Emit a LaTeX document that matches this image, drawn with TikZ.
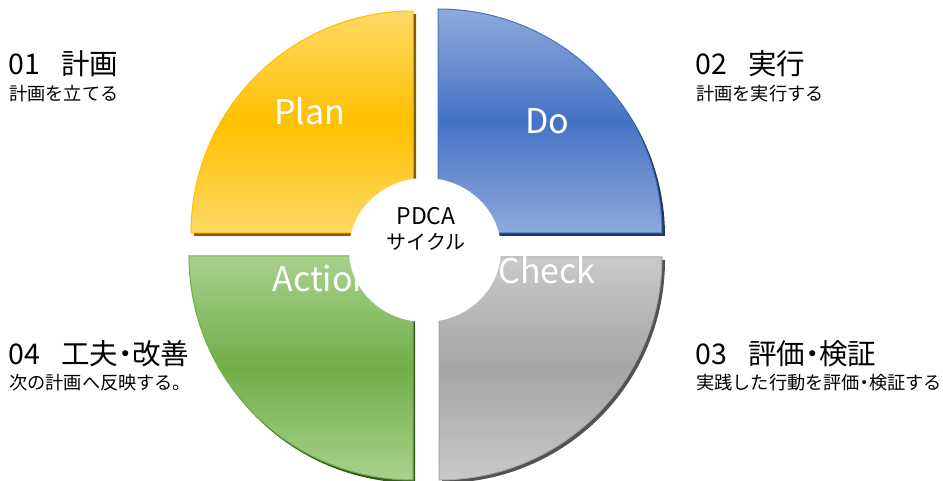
\documentclass[tikz,border=0pt]{standalone}
\usepackage{fontspec}
\setmainfont{Noto Sans CJK JP}
\definecolor{planlight}{HTML}{FFD966}
\definecolor{plandark}{HTML}{FFC000}
\definecolor{planshadow}{HTML}{7F6000}
\definecolor{dolight}{HTML}{8FAADC}
\definecolor{dodark}{HTML}{4472C4}
\definecolor{doshadow}{HTML}{203864}
\definecolor{checklight}{HTML}{C9C9C9}
\definecolor{checkdark}{HTML}{A5A5A5}
\definecolor{checkshadow}{HTML}{525252}
\definecolor{actlight}{HTML}{A9D18E}
\definecolor{actdark}{HTML}{70AD47}
\definecolor{actshadow}{HTML}{385723}
\newcommand{\nakadot}{\hspace{-0.25em}・\hspace{-0.25em}}
\newcommand{\numgap}{\hspace{0.75em}}
\tikzset{
  steptitle/.style={anchor=west,inner sep=0pt,font=\fontsize{28.5}{31}\selectfont},
  stepnote/.style={anchor=west,inner sep=0pt,font=\fontsize{18.2}{21}\selectfont},
  sectorlabel/.style={text=white,inner sep=0pt,font=\fontsize{34}{38}\selectfont}
}
\begin{document}
\begin{tikzpicture}[x=1pt,y=-1pt]
        \useasboundingbox (0,0) rectangle (943,481);
        %% Shadows
        \fill[planshadow] (416,236) -- (194,236) arc[start angle=180,end angle=90,radius=222pt] -- cycle;
        \fill[doshadow] (441,12) arc[start angle=90,end angle=0,radius=224pt] -- (441,236) -- cycle;
        \fill[checkshadow] (442,260) -- (665,260) arc[start angle=0,end angle=-90,radius=223pt] -- cycle;
        \fill[actshadow] (415,259) -- (415,483) arc[start angle=270,end angle=180,radius=224pt] -- cycle;
        %% Sectors
        \shade[draw=plandark,line width=1pt,top color=planlight,bottom color=planlight,middle color=plandark]
            (413,233) -- (191,233) arc[start angle=180,end angle=90,radius=222pt] -- cycle;
        \shade[draw=dodark,line width=1pt,top color=dolight,bottom color=dolight,middle color=dodark]
            (438,9) arc[start angle=90,end angle=0,radius=224pt] -- (438,233) -- cycle;
        \shade[draw=checkdark,line width=1pt,top color=checklight,bottom color=checklight,middle color=checkdark]
            (439,257) -- (662,257) arc[start angle=0,end angle=-90,radius=223pt] -- cycle;
        \shade[draw=actdark,line width=1pt,top color=actlight,bottom color=actlight,middle color=actdark]
            (413,256) -- (413,480) arc[start angle=270,end angle=180,radius=224pt] -- cycle;
        %% Sector labels
        \node[sectorlabel] (plan) at (310,111) {Plan};
        \node[sectorlabel] (do) at (547,121) {Do};
        \node[sectorlabel] (check) at (547,270) {Check};
        \node[sectorlabel] (action) at (323,279) {Action};
        %% Centre
        \fill[white] (425,250) ellipse[x radius=76pt,y radius=72pt];
        \node[align=center,inner sep=0pt,font=\fontsize{20}{25}\selectfont] (pdca) at (426,229)
            {{\fontsize{23}{25}\selectfont PDCA}\\サイクル};
        %% Step texts
        \node[steptitle] (plantitle) at (8,63.5) {01\numgap 計画};
        \node[stepnote] (plannote) at (9,93.5) {計画を立てる};
        \node[steptitle] (dotitle) at (695,63.5) {02\numgap 実行};
        \node[stepnote] (donote) at (696,93.5) {計画を実行する};
        \node[steptitle] (checktitle) at (695,354) {03\numgap 評価\nakadot 検証};
        \node[stepnote] (checknote) at (696,383) {実践した行動を評価\nakadot 検証する};
        \node[steptitle] (actiontitle) at (8,354) {04\numgap 工夫\nakadot 改善};
        \node[stepnote] (actionnote) at (9,383) {次の計画へ反映する。};
    \end{tikzpicture}
\end{document}
